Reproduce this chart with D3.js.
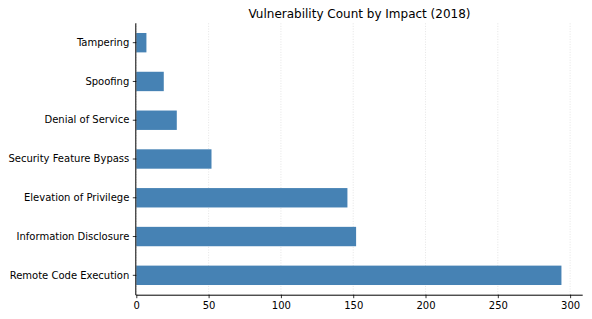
<!DOCTYPE html>
<html><head><meta charset="utf-8">
<script src="https://cdn.jsdelivr.net/npm/d3@7"></script>
<style>body{margin:0;background:#fff;} svg{display:block;}</style>
</head><body>
<svg id="chart" width="592" height="319"></svg>
<script>
const categories = ["Remote Code Execution","Information Disclosure","Elevation of Privilege","Security Feature Bypass","Denial of Service","Spoofing","Tampering"];
const counts = [294, 152, 146, 52, 28, 19, 7];
const xTicks = [0, 50, 100, 150, 200, 250, 300];
const title = "Vulnerability Count by Impact (2018)";

const svg = d3.select("#chart");
const m = {left: 136.3, right: 582.7, top: 23.3, bottom: 294.7};
const x = d3.scaleLinear().domain([0, d3.max(counts) * 1.05]).range([m.left, m.right]);
const y = d3.scaleBand().domain(categories.slice().reverse()).range([m.top, m.bottom]).paddingInner(0.5).paddingOuter(0.25);
const font = "DejaVu Sans, sans-serif";

// grid
svg.append("g").selectAll("line").data(xTicks).join("line")
  .attr("x1", d => x(d)).attr("x2", d => x(d)).attr("y1", m.top).attr("y2", m.bottom)
  .attr("stroke", "#dedede").attr("stroke-width", 0.8).attr("stroke-dasharray", "1,1.6");

// bars
svg.append("g").selectAll("rect").data(categories).join("rect")
  .attr("x", x(0)).attr("y", d => y(d))
  .attr("width", (d, i) => x(counts[i]) - x(0)).attr("height", y.bandwidth())
  .attr("fill", "#4682b4");

// x axis
const xa = svg.append("g").attr("transform", `translate(0,${m.bottom})`)
  .call(d3.axisBottom(x).tickValues(xTicks).tickSize(3.5).tickPadding(3.5));
xa.select(".domain").attr("d", `M${m.left},0.5H${m.right}`).attr("stroke", "#000").attr("stroke-width", 1);
xa.selectAll(".tick line").attr("stroke", "#000").attr("stroke-width", 0.8);
xa.selectAll("text").attr("font-family", font).attr("font-size", 10).attr("fill", "#000");

// y axis
const ya = svg.append("g").attr("transform", `translate(${m.left},0)`)
  .call(d3.axisLeft(y).tickSize(3.5).tickPadding(3.5));
ya.select(".domain").attr("d", `M-0.5,${m.top}V${m.bottom + 0.5}`).attr("stroke", "#000").attr("stroke-width", 1);
ya.selectAll(".tick line").attr("stroke", "#000").attr("stroke-width", 0.8);
ya.selectAll("text").attr("font-family", font).attr("font-size", 10).attr("fill", "#000");

svg.append("text").attr("x", (m.left + m.right) / 2).attr("y", 18)
  .attr("text-anchor", "middle").attr("font-family", font).attr("font-size", 12).attr("fill", "#000")
  .text(title);
</script>
</body></html>
